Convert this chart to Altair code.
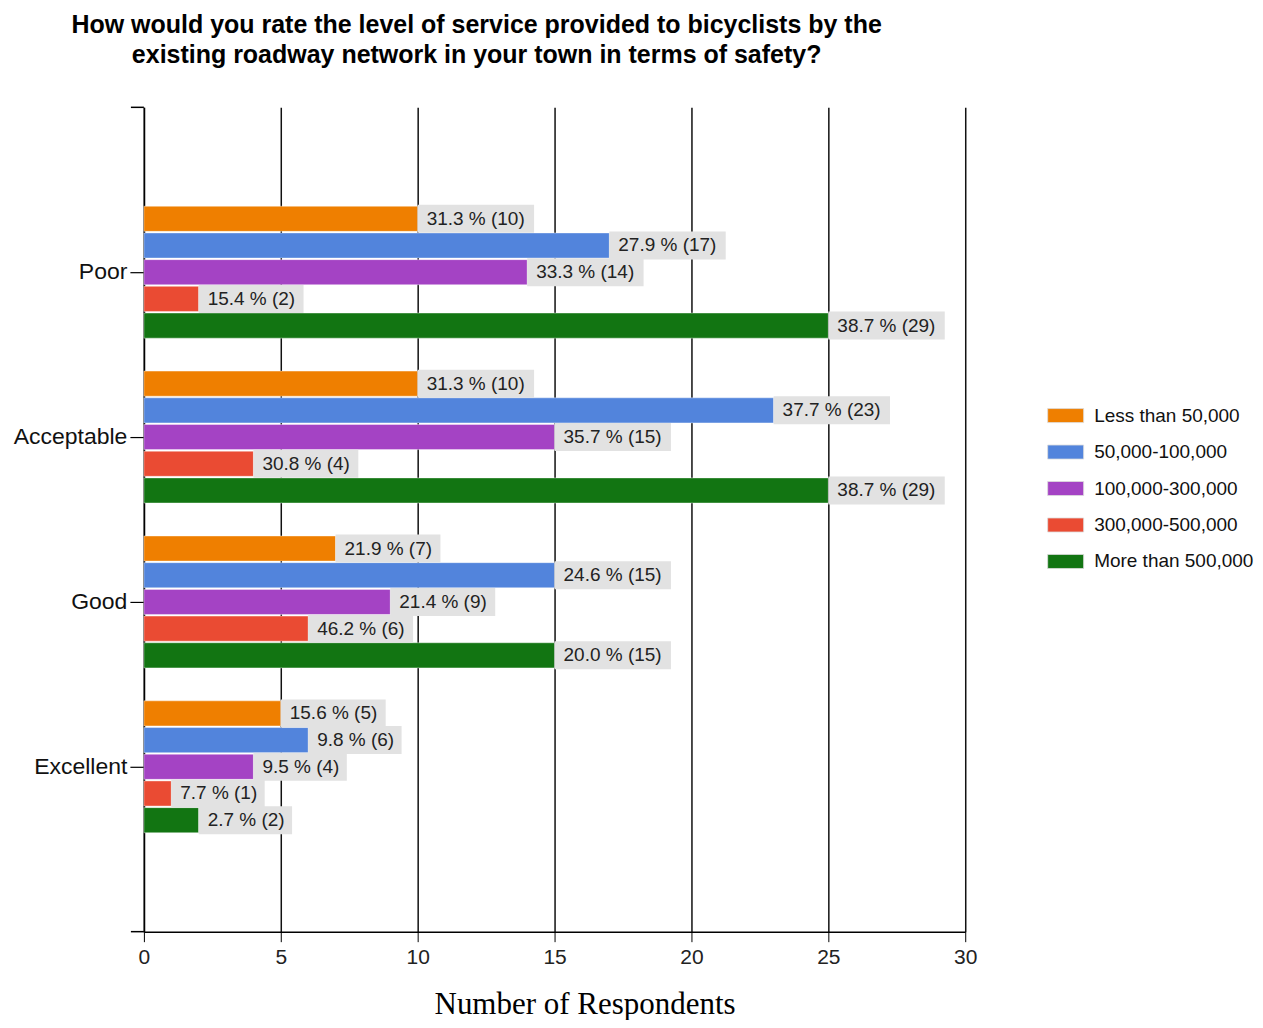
import altair as alt
import pandas as pd

categories = ["Poor", "Acceptable", "Good", "Excellent"]
series = ["Less than 50,000", "50,000-100,000", "100,000-300,000",
          "300,000-500,000", "More than 500,000"]
colors = ["#EF7F00", "#5284DC", "#A443C4", "#EA4B33", "#127512"]

# respondent counts shown in the labels
counts_less50 = [10, 10, 7, 5]
counts_50_100 = [17, 23, 15, 6]
counts_100_300 = [14, 15, 9, 4]
counts_300_500 = [2, 4, 6, 1]
counts_more500 = [29, 29, 15, 2]

# bar lengths as drawn in the picture
bars_less50 = [10, 10, 7, 5]
bars_50_100 = [17, 23, 15, 6]
bars_100_300 = [14, 15, 9, 4]
bars_300_500 = [2, 4, 6, 1]
bars_more500 = [25, 25, 15, 2]

pct_less50 = [31.3, 31.3, 21.9, 15.6]
pct_50_100 = [27.9, 37.7, 24.6, 9.8]
pct_100_300 = [33.3, 35.7, 21.4, 9.5]
pct_300_500 = [15.4, 30.8, 46.2, 7.7]
pct_more500 = [38.7, 38.7, 20.0, 2.7]

all_counts = [counts_less50, counts_50_100, counts_100_300, counts_300_500, counts_more500]
all_bars = [bars_less50, bars_50_100, bars_100_300, bars_300_500, bars_more500]
all_pct = [pct_less50, pct_50_100, pct_100_300, pct_300_500, pct_more500]

rows = []
for s, cnts, bars, pcts in zip(series, all_counts, all_bars, all_pct):
    for c, n, b, p in zip(categories, cnts, bars, pcts):
        rows.append({"rating": c, "series": s, "value": b,
                     "label": f"{p:.1f} % ({n})"})
df = pd.DataFrame(rows)

y_enc = alt.Y("rating:N", sort=categories, title=None,
              scale=alt.Scale(paddingInner=0.2, paddingOuter=0.6),
              axis=alt.Axis(labelFontSize=23, labelFont="Liberation Sans",
                            labelColor="#111", tickSize=14, tickColor="#000",
                            domainColor="#000", domainWidth=1.5, tickWidth=1.2,
                            labelPadding=3, grid=False))
yoff = alt.YOffset("series:N", sort=series, scale=alt.Scale(paddingInner=0.06))
x_scale = alt.Scale(domain=[0, 30], nice=False)

base = alt.Chart(df)

bars = base.mark_bar(stroke="#ffffff", strokeOpacity=0.5, strokeWidth=0.8).encode(
    x=alt.X("value:Q", scale=x_scale, title="Number of Respondents",
            axis=alt.Axis(values=[0, 5, 10, 15, 20, 25, 30], grid=True,
                          gridColor="#111", gridWidth=1.5, domainColor="#000",
                          domainWidth=1.5, tickColor="#000", tickSize=10,
                          labelFontSize=21, labelFont="Liberation Sans",
                          labelColor="#222", labelPadding=5, labelFlush=False,
                          titleFont="Liberation Serif", titleFontSize=31,
                          titleFontWeight="normal", titleColor="#000",
                          titleX=441, titleY=82, titleAnchor="middle",
                          titleAlign="center", titleBaseline="alphabetic")),
    y=y_enc,
    yOffset=yoff,
    color=alt.Color("series:N", sort=series,
                    scale=alt.Scale(domain=series, range=colors),
                    legend=alt.Legend(title=None, orient="none", legendX=904,
                                      legendY=290, labelFontSize=19,
                                      labelFont="Liberation Sans",
                                      labelColor="#111", labelOffset=10,
                                      symbolType="M-1,-0.39H1V0.39H-1Z",
                                      symbolSize=1296, symbolStrokeWidth=0.8,
                                      symbolStrokeColor="#dddddd",
                                      rowPadding=7.5, labelLimit=300)),
)

boxes = base.transform_calculate(
    x2="datum.value + (length(datum.label) * 11.5 - 10) / 27.4"
).mark_bar(color="#E2E2E2", height=28).encode(
    x=alt.X("value:Q", scale=x_scale),
    x2="x2:Q",
    y=alt.Y("rating:N", sort=categories),
    yOffset=yoff,
)

texts = base.mark_text(align="left", baseline="middle", dx=9, fontSize=19,
                       font="Liberation Sans", color="#222").encode(
    x=alt.X("value:Q", scale=x_scale),
    y=alt.Y("rating:N", sort=categories),
    yOffset=yoff,
    text="label:N",
)

top_tick = alt.Chart(pd.DataFrame({"k": [0]})).mark_rule(color="#000", strokeWidth=1.5).encode(
    x=alt.value(-13), x2=alt.value(0), y=alt.value(0))
bottom_ext = alt.Chart(pd.DataFrame({"k": [0]})).mark_rule(color="#000", strokeWidth=1.5).encode(
    x=alt.value(-13), x2=alt.value(0), y=alt.value(825))

chart = alt.layer(bars, boxes, texts, top_tick, bottom_ext).properties(
    width=822, height=825,
    padding={"left": 136, "top": 99, "right": 290, "bottom": 88},
    autosize=alt.AutoSizeParams(type="none"),
    title=alt.TitleParams(
        ["How would you rate the level of service provided to bicyclists by the",
         "existing roadway network in your town in terms of safety?"],
        font="Liberation Sans", fontSize=25, fontWeight="bold", color="#000",
        anchor="middle", frame="group", dx=-78, offset=39, lineHeight=30),
).configure_view(stroke=None).configure_axis(labelOverlap=False)

chart.save("out.html", embed_options={"renderer": "svg", "actions": False})
